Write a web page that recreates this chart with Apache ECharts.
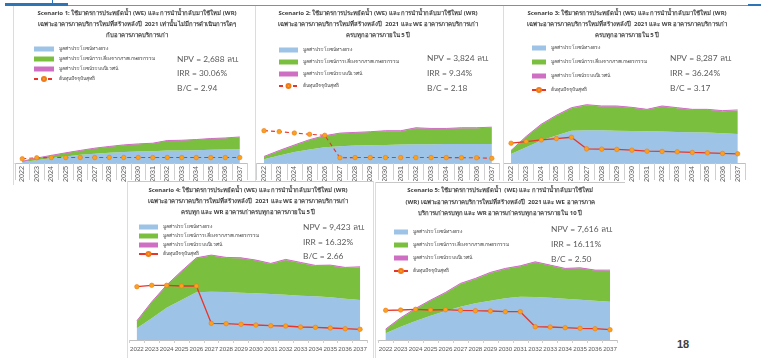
<!DOCTYPE html>
<html>
<head>
<meta charset="utf-8">
<script src="https://cdn.jsdelivr.net/npm/echarts@6/dist/echarts.min.js"></script>
<style>
  html, body { margin: 0; padding: 0; background: #fff; width: 761px; height: 358px; overflow: hidden; position: relative; }
  .panel { position: absolute; background: #fff; }
  .rule { position: absolute; }
  #page { position: absolute; left: 677px; top: 338px; font: bold 11px 'Liberation Sans Narrow', 'Liberation Sans', sans-serif; color: #404040; }
</style>
</head>
<body>
<!-- slide header rule -->
<div class="rule" style="left:5px;top:3px;width:63px;height:3px;background:#2e75b6"></div>
<div class="rule" style="left:52px;top:0;width:1px;height:4px;background:#2e75b6"></div>
<div class="rule" style="left:68px;top:5px;width:680px;height:1px;background:#6e93c2"></div>
<div class="rule" style="left:748px;top:4px;width:13px;height:2px;background:#2e75b6"></div>

<div id="c1" class="panel" style="left:13px;top:6px;width:240px;height:179px"></div>
<div id="c2" class="panel" style="left:255px;top:6px;width:248px;height:179px"></div>
<div id="c3" class="panel" style="left:503px;top:6px;width:254px;height:179px"></div>
<div class="rule" style="left:13px;top:6px;width:1px;height:179px;background:#dcdcdc"></div>
<div class="rule" style="left:255px;top:6px;width:1px;height:179px;background:#dcdcdc"></div>
<div class="rule" style="left:503px;top:6px;width:1px;height:179px;background:#dcdcdc"></div>

<div id="c4" class="panel" style="left:127px;top:181px;width:246px;height:177px;z-index:2"></div>
<div id="c5" class="panel" style="left:375px;top:181px;width:255px;height:177px;z-index:2"></div>
<div class="rule" style="left:127px;top:181px;width:246px;height:1px;background:#c8c8c8;z-index:3"></div>
<div class="rule" style="left:127px;top:181px;width:1px;height:177px;background:#dcdcdc;z-index:3"></div>
<div class="rule" style="left:373px;top:181px;width:1px;height:177px;background:#dcdcdc;z-index:3"></div>
<div class="rule" style="left:375px;top:182px;width:250px;height:1px;background:#c8c8c8;z-index:3"></div>
<div class="rule" style="left:375px;top:182px;width:1px;height:176px;background:#dcdcdc;z-index:3"></div>

<div id="page">18</div>

<script>
// Years on every x axis
const years = ['2022','2023','2024','2025','2026','2027','2028','2029','2030','2031','2032','2033','2034','2035','2036','2037'];

// Series names
const nameDirect = 'มูลค่าประโยชน์ทางตรง';
const nameAgri = 'มูลค่าประโยชน์การเลี่ยงจากภาคเกษตรกรรม';
const nameEco = 'มูลค่าประโยชน์ระบบนิเวศน์';
const nameCost = 'ต้นทุนปัจจุบันสุทธิ';

// Scenario 1 (million baht per year)
const s1Direct = [10,27,50,67,83,93,103,110,117,120,127,127,130,133,137,140];
const s1Agri   = [4,20,24,33,41,54,61,70,73,77,97,100,104,111,113,120];
const s1Eco    = [3,3,3,3,3,3,3,3,3,3,3,3,3,3,3,3];
const s1Cost   = [43,53,55,55,56,55,56,56,56,55,56,55,55,55,55,55];

// Scenario 2
const s2Direct = [37,77,110,137,160,170,177,180,183,187,190,190,193,193,193,193];
const s2Agri   = [25,45,68,95,112,128,128,132,139,135,162,155,152,159,159,165];
const s2Eco    = [4,4,4,4,4,4,4,4,4,4,4,4,4,4,4,4];
const s2Cost   = [327,317,303,290,280,53,55,55,55,55,55,55,55,54,53,47];

// Scenario 3
const s3Direct = [90,160,227,277,327,330,330,327,323,320,317,313,310,307,300,293];
const s3Agri   = [31,104,160,200,227,254,241,244,234,217,254,241,227,230,224,238];
const s3Eco    = [5,5,5,5,5,5,5,5,5,5,5,5,5,5,5,5];
const s3Cost   = [200,217,233,247,260,143,140,137,130,120,117,113,107,103,97,93];

// Scenario 4
const s4Direct = [117,217,323,400,477,483,480,473,467,460,453,443,437,427,413,400];
const s4Agri   = [70,160,221,284,340,361,341,344,327,301,348,328,304,317,308,327];
const s4Eco    = [5,5,5,5,5,5,5,5,5,5,5,5,5,5,5,5];
const s4Cost   = [533,547,547,540,540,167,163,157,150,143,140,130,127,120,113,107];

// Scenario 5
const s5Direct = [67,133,190,243,290,333,367,393,417,433,430,423,413,403,393,383];
const s5Agri   = [37,84,121,151,181,228,244,278,294,304,347,321,298,314,301,311];
const s5Eco    = [5,5,5,5,5,5,5,5,5,5,5,5,5,5,5,5];
const s5Cost   = [297,300,307,300,303,297,293,290,283,283,133,130,123,117,113,103];

// Titles and summary figures
const titles = [
  'Scenario 1: ใช้มาตรการประหยัดน้ำ (WE) และ การนำน้ำกลับมาใช้ใหม่ (WR)\nเฉพาะอาคารภาคบริการใหม่ที่สร้างหลังปี  2021 เท่านั้น ไม่มีการดำเนินการใดๆ\nกับอาคารภาคบริการเก่า',
  'Scenario 2: ใช้มาตรการประหยัดน้ำ (WE) และ การนำน้ำกลับมาใช้ใหม่ (WR)\nเฉพาะอาคารภาคบริการใหม่ที่สร้างหลังปี  2021 และ WE อาคารภาคบริการเก่า\nครบทุกอาคารภายใน 5 ปี',
  'Scenario 3: ใช้มาตรการประหยัดน้ำ (WE) และ การนำน้ำกลับมาใช้ใหม่ (WR)\nเฉพาะอาคารภาคบริการใหม่ที่สร้างหลังปี  2021 และ WR อาคารภาคบริการเก่า\nครบทุกอาคารภายใน 5 ปี',
  'Scenario 4: ใช้มาตรการประหยัดน้ำ (WE) และ การนำน้ำกลับมาใช้ใหม่ (WR)\nเฉพาะอาคารภาคบริการใหม่ที่สร้างหลังปี  2021 และ WE อาคารภาคบริการเก่า\nครบทุก และ WR อาคารเก่าครบทุกอาคารภายใน 5 ปี',
  'Scenario 5: ใช้มาตรการประหยัดน้ำ  (WE) และ การนำน้ำกลับมาใช้ใหม่\n(WR) เฉพาะอาคารภาคบริการใหม่ที่สร้างหลังปี  2021 และ WE อาคารภาค\nบริการเก่าครบทุก และ WR อาคารเก่าครบทุกอาคารภายใน 10 ปี'
];
const npvText = ['NPV = 2,688 ลบ.', 'NPV = 3,824 ลบ.', 'NPV = 8,287 ลบ.', 'NPV = 9,423 ลบ.', 'NPV = 7,616 ลบ.'];
const irrText = ['IRR = 30.06%', 'IRR = 9.34%', 'IRR = 36.24%', 'IRR = 16.32%', 'IRR = 16.11%'];
const bcText  = ['B/C = 2.94', 'B/C = 2.18', 'B/C = 3.17', 'B/C = 2.66', 'B/C = 2.50'];

const FONT = "'Noto Sans', 'DejaVu Sans', sans-serif";
const BLUE = '#9dc3e6', GREEN = '#7abf3e', PINK = '#cf6fc3', RED = '#e8352b', ORANGE = '#f8a21f';

function areaSeries(name, data, color, edge) {
  return {
    name, type: 'line', stack: 'total', data, symbol: 'none', smooth: false,
    itemStyle: { color },
    lineStyle: edge ? { width: 1, color } : { width: 0 },
    areaStyle: { color, opacity: 1 },
    z: 2
  };
}

function build(i, d, L) {
  const texts = [npvText[i], irrText[i], bcText[i]].map((t, k) => ({
    type: 'text', left: L.txtX, top: L.txtY[k] - 5,
    style: { text: t, fontSize: 8.4, fill: '#595959', fontFamily: "Lato, 'Open Sans', sans-serif" }
  }));
  // chart heading, each line centred on the panel
  texts.push({
    type: 'text', x: L.cx, y: L.titleTop,
    style: {
      text: titles[i], align: 'center', verticalAlign: 'top', fontSize: 6, fontWeight: 'bold',
      lineHeight: L.titleLH, fill: '#404040', fontFamily: FONT
    }
  });
  return {
    animation: false,
    textStyle: { fontFamily: FONT },
    legend: {
      orient: 'vertical', left: L.legLeft, top: L.legTop,
      itemWidth: L.legW, itemHeight: 5, itemGap: L.legGap,
      textStyle: { fontSize: 5, color: '#404040', lineHeight: 6, fontFamily: FONT },
      data: [
        { name: nameDirect, icon: 'rect' },
        { name: nameAgri, icon: 'rect' },
        { name: nameEco, icon: 'rect' },
        { name: nameCost }
      ]
    },
    grid: { left: L.gLeft, top: L.gTop, width: L.gWidth, height: 100 },
    xAxis: {
      type: 'category', data: years, boundaryGap: true,
      axisLine: { lineStyle: { color: '#bfbfbf', width: 1 } },
      axisTick: { show: true, length: L.tickLen, lineStyle: { color: '#cfcfcf' } },
      axisLabel: {
        interval: 0, rotate: L.rotate, fontSize: L.labSize, color: '#595959', margin: L.labMargin,
        fontFamily: "'Liberation Sans', sans-serif"
      }
    },
    yAxis: { type: 'value', min: 0, max: 1000, show: false, splitLine: { show: false } },
    series: [
      areaSeries(nameDirect, d.direct, BLUE),
      areaSeries(nameAgri, d.agri, GREEN),
      areaSeries(nameEco, d.eco, PINK, true),
      {
        name: nameCost, type: 'line', data: d.cost,
        symbol: 'circle', symbolSize: 4.5,
        itemStyle: { color: ORANGE, borderColor: '#f07b1d', borderWidth: 0.6 },
        lineStyle: { color: RED, width: L.dashed ? 1.1 : 1.3, type: L.dashed ? [4, 3] : 'solid' },
        z: 5
      }
    ],
    graphic: texts
  };
}

const layouts = [
  { cx: 124, titleTop: 2, titleLH: 11, legLeft: 15, legTop: 35, legW: 20, legGap: 4,
    gLeft: 2, gTop: 58, gWidth: 232, tickLen: 17, rotate: 90, labSize: 7.2, labMargin: 3, dashed: true,
    txtX: 164, txtY: [54, 68, 83] },
  { cx: 123, titleTop: 2, titleLH: 11, legLeft: 18, legTop: 36, legW: 19, legGap: 6,
    gLeft: 1.4, gTop: 58, gWidth: 243, tickLen: 17, rotate: 90, labSize: 7.2, labMargin: 3, dashed: true,
    txtX: 172, txtY: [53, 68, 83] },
  { cx: 124, titleTop: 2, titleLH: 11, legLeft: 23, legTop: 34, legW: 14, legGap: 8,
    gLeft: 0.5, gTop: 58, gWidth: 241.7, tickLen: 17, rotate: 90, labSize: 7.2, labMargin: 3, dashed: false,
    txtX: 167, txtY: [53, 68, 83] },
  { cx: 121, titleTop: 4, titleLH: 11, legLeft: 6, legTop: 38, legW: 19, legGap: 3,
    gLeft: 2.2, gTop: 59, gWidth: 238.3, tickLen: 3, rotate: 0, labSize: 6.2, labMargin: 6, dashed: false,
    txtX: 176, txtY: [47, 62, 76] },
  { cx: 125, titleTop: 4, titleLH: 11.5, legLeft: 13, legTop: 43, legW: 14, legGap: 7,
    gLeft: 3.2, gTop: 59, gWidth: 239.3, tickLen: 3, rotate: 0, labSize: 6.2, labMargin: 6, dashed: false,
    txtX: 176, txtY: [49, 64, 79] }
];

const datasets = [
  { direct: s1Direct, agri: s1Agri, eco: s1Eco, cost: s1Cost },
  { direct: s2Direct, agri: s2Agri, eco: s2Eco, cost: s2Cost },
  { direct: s3Direct, agri: s3Agri, eco: s3Eco, cost: s3Cost },
  { direct: s4Direct, agri: s4Agri, eco: s4Eco, cost: s4Cost },
  { direct: s5Direct, agri: s5Agri, eco: s5Eco, cost: s5Cost }
];

['c1','c2','c3','c4','c5'].forEach((id, i) => {
  const chart = echarts.init(document.getElementById(id), null, { renderer: 'canvas' });
  chart.setOption(build(i, datasets[i], layouts[i]));
});
</script>
</body>
</html>
